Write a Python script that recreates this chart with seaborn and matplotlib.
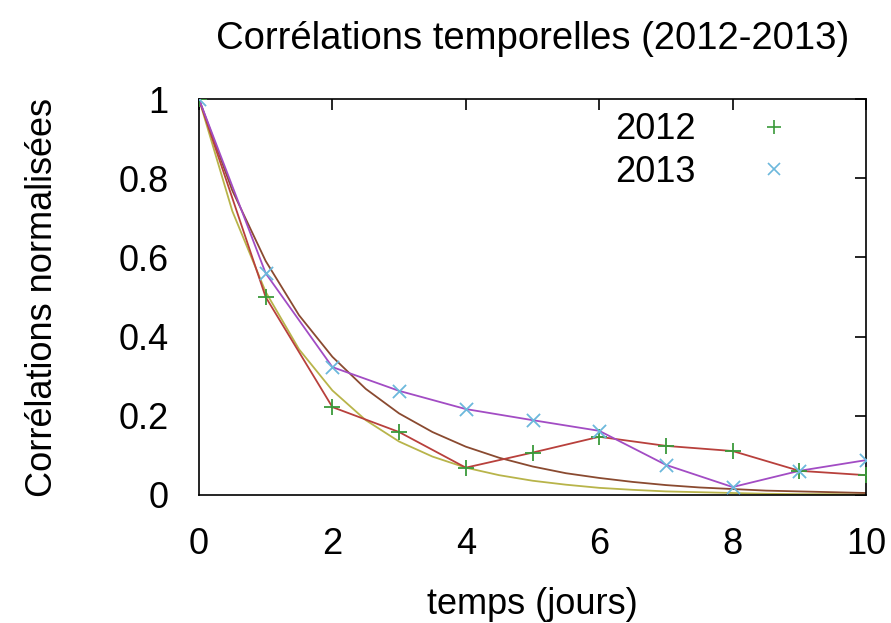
import numpy as np
import pandas as pd
import matplotlib
matplotlib.use("Agg")
import matplotlib.pyplot as plt
import seaborn as sns
from matplotlib.lines import Line2D

# Data
days = [0, 1, 2, 3, 4, 5, 6, 7, 8, 9, 10]
corr_2012 = [1.0, 0.50, 0.222, 0.159, 0.069, 0.107, 0.147, 0.124, 0.111, 0.061, 0.05]
corr_2013 = [1.0, 0.56, 0.323, 0.263, 0.217, 0.189, 0.162, 0.076, 0.02, 0.061, 0.088]
fit_days = [0, 0.5, 1, 1.5, 2, 2.5, 3, 3.5, 4, 4.5, 5, 5.5, 6, 6.5, 7, 7.5, 8, 8.5, 9, 9.5, 10]
fit_slow = [1.0, 0.769, 0.591, 0.454, 0.349, 0.268, 0.206, 0.159, 0.122, 0.094, 0.072,
            0.055, 0.043, 0.033, 0.025, 0.019, 0.015, 0.011, 0.009, 0.007, 0.005]
fit_fast = [1.0, 0.717, 0.513, 0.368, 0.264, 0.189, 0.135, 0.097, 0.069, 0.050, 0.036,
            0.026, 0.018, 0.013, 0.009, 0.007, 0.005, 0.003, 0.002, 0.002, 0.001]
labels = ["2012", "2013"]
x_ticks = [0, 2, 4, 6, 8, 10]
y_ticks = [0, 0.2, 0.4, 0.6, 0.8, 1]
y_tick_labels = ["0", "0.2", "0.4", "0.6", "0.8", "1"]

sns.set_style("white")
plt.rcParams['font.family'] = ['Liberation Sans', 'DejaVu Sans']
plt.rcParams['text.color'] = 'black'
plt.rcParams['axes.labelcolor'] = 'black'
plt.rcParams['xtick.color'] = 'black'
plt.rcParams['ytick.color'] = 'black'

FS = 26
fig = plt.figure(figsize=(8.91, 6.23), dpi=100)
ax = fig.add_axes([0.2233, 0.2055, 0.7487, 0.6355])

df12 = pd.DataFrame({"t": days, "c": corr_2012})
df13 = pd.DataFrame({"t": days, "c": corr_2013})
dfs = pd.DataFrame({"t": fit_days, "c": fit_slow})
dff = pd.DataFrame({"t": fit_days, "c": fit_fast})

sns.lineplot(data=dff, x="t", y="c", ax=ax, color="#b8b44a", lw=1.3, legend=False)
sns.lineplot(data=dfs, x="t", y="c", ax=ax, color="#8a4a30", lw=1.3, legend=False)
sns.lineplot(data=df12, x="t", y="c", ax=ax, color="#b8403c", lw=1.3, legend=False)
sns.lineplot(data=df13, x="t", y="c", ax=ax, color="#a24cc4", lw=1.3, legend=False)
sns.scatterplot(data=df12, x="t", y="c", ax=ax, marker="+", s=120, color="#3a9a3a",
                linewidth=1.3, legend=False, zorder=5)
sns.scatterplot(data=df13, x="t", y="c", ax=ax, marker="x", s=90, color="#6cb8dc",
                linewidth=1.3, legend=False, zorder=5)

ax.set_xlim(0, 10)
ax.set_ylim(0, 1)
ax.set_xticks(x_ticks)
ax.set_xticklabels([str(v) for v in x_ticks])
ax.set_yticks(y_ticks)
ax.set_yticklabels(y_tick_labels)
ax.tick_params(axis="both", direction="in", length=8, width=1.2, labelsize=FS,
               top=True, right=True, color="black")
ax.tick_params(axis="y", pad=22)
ax.tick_params(axis="x", pad=23)
for s in ax.spines.values():
    s.set_visible(True)
    s.set_color("black")
    s.set_linewidth(1.2)

ax.set_xlabel("temps (jours)", fontsize=FS, labelpad=18)
ax.set_ylabel("Corrélations normalisées", fontsize=FS, labelpad=42)
ax.set_title("Corrélations temporelles (2012-2013)", fontsize=27.5, pad=36)

handles = [Line2D([], [], ls="none", marker="+", color="#3a9a3a", markersize=10, mew=1.2),
           Line2D([], [], ls="none", marker="x", color="#6cb8dc", markersize=8, mew=1.2)]
leg = ax.legend(handles, labels, loc="upper right", markerfirst=False, frameon=False,
                fontsize=FS, handlelength=1.0, handletextpad=1.66,
                borderaxespad=0.0, labelspacing=0.2, bbox_to_anchor=(0.91, 1.003))

fig.savefig("out.png", dpi=100)
